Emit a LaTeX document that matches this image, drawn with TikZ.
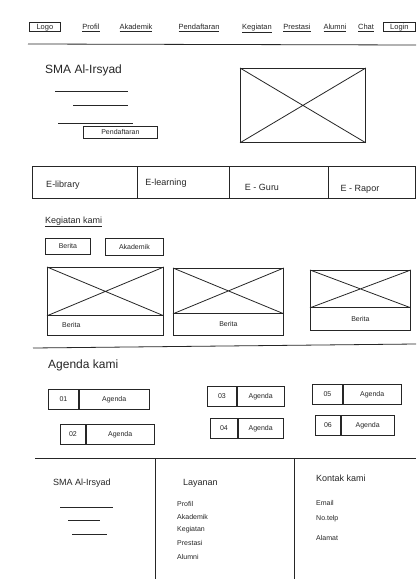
\documentclass[tikz,border=0pt]{standalone}
\usepackage{fontspec}
\setmainfont{Liberation Sans}
\tikzset{
  sk/.style={draw=black!85, line width=0.8pt},
  txt/.style={inner sep=0pt, text=black!85},
  fnav/.style={txt, font=\fontsize{7.5}{8}\selectfont},
  fsmall/.style={txt, font=\fontsize{7}{8}\selectfont},
  fmid/.style={txt, font=\fontsize{9}{10}\selectfont},
  fbig/.style={txt, font=\fontsize{12}{13}\selectfont},
  box/.style={sk, inner sep=0pt, anchor=north west},
  navitem/.style={fnav, anchor=base},
}
\newcommand{\imgX}[1]{\draw[sk] (#1.north west) -- (#1.south east) (#1.north east) -- (#1.south west);}
\begin{document}
\begin{tikzpicture}[x=1pt,y=-1pt]
\useasboundingbox (0,0) rectangle (416,583);
\fill[white] (0,0) rectangle (416,583);

% ---------- navigation ----------
\node[box, fnav, minimum width=31, minimum height=9] (logo) at (29,22.5) {Logo};
\node[navitem] (nprofil) at (91,29.5) {\underline{Profil}};
\node[navitem] (nakad) at (136,29.5) {\underline{Akademik}};
\node[navitem] (ndaftar) at (199,29.5) {\underline{Pendaftaran}};
\node[navitem] (nkeg) at (257,29.5) {\underline{Kegiatan}};
\node[navitem] (nprest) at (297,29.5) {\underline{Prestasi}};
\node[navitem] (nalumni) at (335,29.5) {\underline{Alumni}};
\node[navitem] (nchat) at (366,29.5) {\underline{Chat}};
\node[box, fnav, minimum width=32, minimum height=9] (login) at (383,22.5) {Login};
\draw[sk] (28,44) -- (416,45);

% ---------- hero ----------
\node[fbig, anchor=west] (title) at (45,70) {SMA Al-Irsyad};
\draw[sk, line width=0.6pt] (55,91) -- (128,91);
\draw[sk, line width=0.6pt] (73,105) -- (128,105);
\draw[sk, line width=0.6pt] (58,123) -- (133,123);
\node[box, fsmall, minimum width=74, minimum height=12] (daftar) at (83,126) {Pendaftaran};
\node[box, minimum width=125, minimum height=74] (heroimg) at (240,68) {};
\imgX{heroimg}

% ---------- tabs ----------
\draw[sk] (32,166) rectangle (415,198);
\draw[sk] (137,166) -- (137,198);
\draw[sk] (229,166) -- (229,198);
\draw[sk] (328,166) -- (328,198);
\node[fmid, anchor=base] (t1) at (63,187) {E-library};
\node[fmid, anchor=base] (t2) at (166,185) {E-learning};
\node[fmid, anchor=base] (t3) at (262,190) {E - Guru};
\node[fmid, anchor=base] (t4) at (360,191) {E - Rapor};

% ---------- kegiatan ----------
\node[fmid, anchor=west] (kegtitle) at (45,222) {\underline{Kegiatan kami}};
\node[box, fsmall, minimum width=45, minimum height=16] (bberita) at (45,238) {Berita};
\node[box, fsmall, minimum width=58, minimum height=17] (bakad) at (105,238) {Akademik};

\node[box, minimum width=116, minimum height=48] (c1img) at (47,267) {};
\node[box, fsmall, minimum width=116, minimum height=20] (c1txt) at (47,315) {};
\node[fsmall, anchor=west] (c1lbl) at (62,325) {Berita};
\imgX{c1img}
\node[box, minimum width=110, minimum height=45] (c2img) at (173,268) {};
\node[box, fsmall, minimum width=110, minimum height=22] (c2txt) at (173,313) {Berita};
\imgX{c2img}
\node[box, minimum width=100, minimum height=37] (c3img) at (310,270) {};
\node[box, fsmall, minimum width=100, minimum height=23] (c3txt) at (310,307) {Berita};
\imgX{c3img}
\draw[sk] (33,348) -- (416,344);

% ---------- agenda ----------
\node[fbig, anchor=west] (agtitle) at (48,365) {Agenda kami};
\tikzset{
  agnum/.style={box, fsmall, minimum height=20},
  agtxt/.style={box, fsmall, minimum height=20},
}
\node[agnum, minimum width=30] (a1n) at (48,389) {01};
\node[agtxt, minimum width=70] (a1t) at (a1n.north east) {Agenda};
\node[agnum, minimum width=25] (a2n) at (60,424) {02};
\node[agtxt, minimum width=68] (a2t) at (a2n.north east) {Agenda};
\node[agnum, minimum width=29] (a3n) at (207,386) {03};
\node[agtxt, minimum width=47] (a3t) at (a3n.north east) {Agenda};
\node[agnum, minimum width=27] (a4n) at (210,418) {04};
\node[agtxt, minimum width=45] (a4t) at (a4n.north east) {Agenda};
\node[agnum, minimum width=30] (a5n) at (312,384) {05};
\node[agtxt, minimum width=58] (a5t) at (a5n.north east) {Agenda};
\node[agnum, minimum width=25] (a6n) at (315,415) {06};
\node[agtxt, minimum width=53] (a6t) at (a6n.north east) {Agenda};

% ---------- footer ----------
\draw[sk] (35,458) -- (416,458);
\draw[sk] (155,458) -- (155,579);
\draw[sk] (294,458) -- (294,579);
\node[fmid, anchor=west] (ftitle) at (53,483) {SMA Al-Irsyad};
\draw[sk, line width=0.6pt] (60,507) -- (113,507);
\draw[sk, line width=0.6pt] (68,520) -- (100,520);
\draw[sk, line width=0.6pt] (72,534) -- (107,534);
\node[fmid, anchor=west] (layanan) at (183,483) {Layanan};
\node[fsmall, anchor=west] (l1) at (177,504) {Profil};
\node[fsmall, anchor=west] (l2) at (177,517) {Akademik};
\node[fsmall, anchor=west] (l3) at (177,530) {Kegiatan};
\node[fsmall, anchor=west] (l4) at (177,543) {Prestasi};
\node[fsmall, anchor=west] (l5) at (177,557) {Alumni};
\node[fmid, anchor=west] (kontak) at (316,478) {Kontak kami};
\node[fsmall, anchor=west] (k1) at (316,503) {Email};
\node[fsmall, anchor=west] (k2) at (316,519) {No.telp};
\node[fsmall, anchor=west] (k3) at (316,538) {Alamat};
\end{tikzpicture}
\end{document}
